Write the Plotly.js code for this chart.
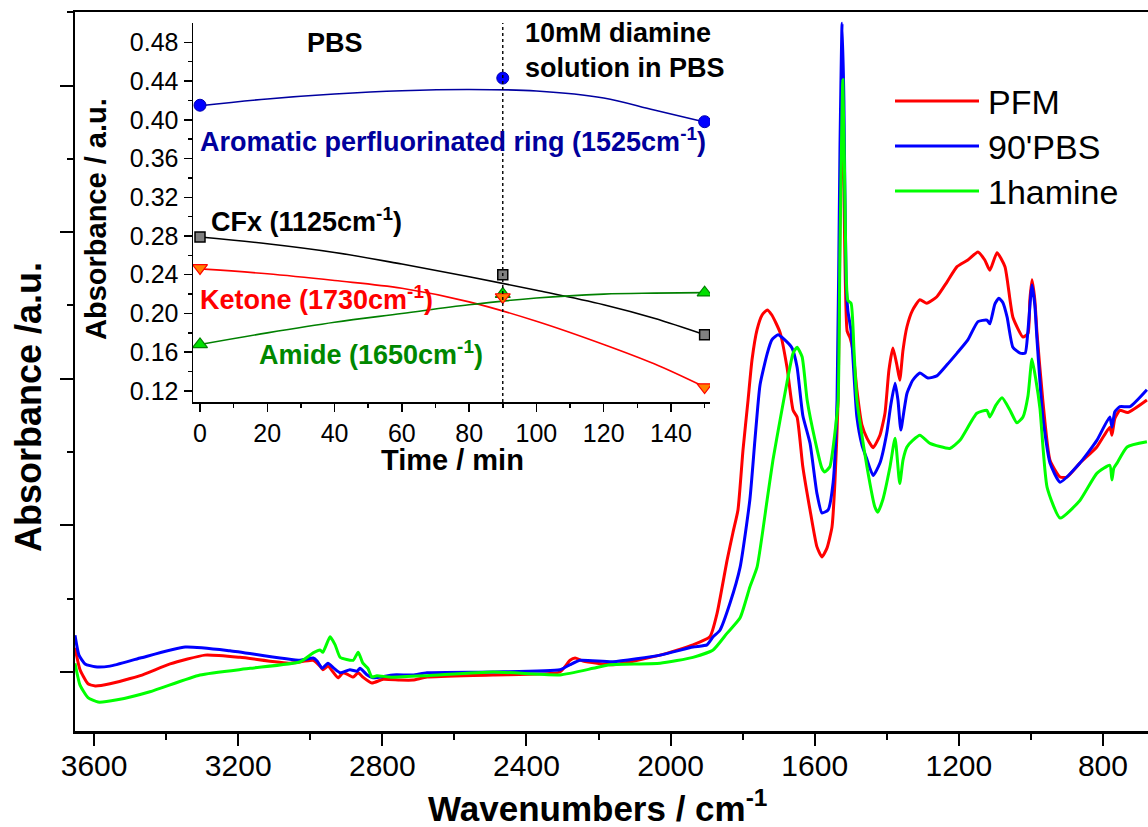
<!DOCTYPE html>
<html>
<head>
<meta charset="utf-8">
<script src="https://cdn.plot.ly/plotly-3.0.1.min.js"></script>
<style>html,body{margin:0;padding:0;background:#fff;}#chart{width:1148px;height:827px;}</style>
</head>
<body>
<div id="chart"></div>
<script>
// ---- Main FTIR spectra (wavenumber cm-1, absorbance a.u.) ----
const wnPFM = [3653,3639,3617,3597,3556,3472,3389,3292,3195,3056,2992,2973,2965,2951,2923,2909,2898,2881,2867,2854,2829,2798,2751,2715,2676,2493,2307,2279,2265,2243,2160,2029,1938,1891,1871,1843,1827,1813,1799,1785,1774,1760,1746,1732,1719,1696,1677,1660,1649,1633,1613,1594,1580,1566,1552,1544,1535,1530,1524,1519,1510,1502,1494,1483,1469,1455,1438,1419,1405,1394,1383,1372,1364,1355,1344,1328,1308,1289,1261,1233,1205,1175,1147,1128,1114,1094,1072,1050,1022,1008,1003,997,989,983,967,947,919,900,864,817,781,775,767,753,731,678];
const absPFM = [0.033,0.003,-0.016,-0.019,-0.016,-0.005,0.011,0.023,0.020,0.012,0.016,0.008,0.003,0.008,-0.008,-0.001,-0.003,-0.007,-0.001,-0.007,-0.015,-0.010,-0.011,-0.011,-0.007,-0.004,0.000,0.016,0.019,0.015,0.010,0.023,0.037,0.048,0.080,0.153,0.190,0.221,0.303,0.371,0.426,0.467,0.487,0.494,0.487,0.463,0.416,0.357,0.348,0.280,0.221,0.171,0.157,0.169,0.198,0.258,0.371,0.600,0.780,0.660,0.465,0.456,0.439,0.385,0.337,0.319,0.306,0.323,0.353,0.412,0.442,0.419,0.398,0.439,0.471,0.494,0.508,0.503,0.512,0.532,0.553,0.562,0.573,0.562,0.548,0.572,0.553,0.484,0.457,0.462,0.507,0.535,0.507,0.462,0.371,0.289,0.266,0.266,0.285,0.307,0.334,0.323,0.346,0.357,0.354,0.371];

const wnPBS = [3653,3642,3625,3597,3556,3472,3347,3223,3028,2992,2981,2967,2951,2934,2917,2890,2870,2862,2842,2826,2770,2715,2676,2493,2307,2279,2251,2160,2029,1938,1899,1882,1863,1835,1807,1780,1766,1752,1732,1719,1702,1683,1663,1649,1633,1613,1594,1580,1563,1549,1538,1530,1524,1519,1513,1508,1499,1483,1469,1455,1438,1419,1400,1389,1377,1369,1361,1352,1344,1328,1308,1286,1261,1233,1205,1175,1147,1122,1114,1100,1089,1078,1066,1050,1030,1016,1008,997,989,983,967,947,919,864,817,781,775,767,753,725,678];
const absPBS = [0.050,0.023,0.011,0.007,0.008,0.019,0.034,0.029,0.016,0.019,0.015,0.005,0.012,0.005,-0.001,0.003,0.001,0.005,-0.004,-0.008,-0.004,-0.004,-0.001,0.000,0.003,0.010,0.016,0.014,0.023,0.034,0.037,0.048,0.057,0.094,0.143,0.235,0.316,0.391,0.434,0.453,0.460,0.453,0.442,0.416,0.350,0.312,0.244,0.217,0.221,0.258,0.371,0.712,0.885,0.780,0.535,0.493,0.465,0.348,0.310,0.290,0.268,0.285,0.326,0.364,0.394,0.371,0.330,0.357,0.380,0.398,0.408,0.401,0.404,0.419,0.435,0.453,0.478,0.480,0.475,0.502,0.510,0.504,0.484,0.443,0.435,0.435,0.467,0.528,0.500,0.453,0.348,0.285,0.259,0.285,0.316,0.348,0.334,0.355,0.362,0.362,0.385];

const wnAmine = [3653,3639,3617,3589,3536,3445,3306,3167,3028,2992,2973,2965,2945,2931,2917,2881,2867,2854,2840,2829,2815,2779,2676,2493,2307,2215,2168,2029,1938,1882,1843,1807,1780,1760,1732,1716,1696,1677,1660,1649,1635,1621,1599,1580,1572,1558,1544,1535,1530,1522,1516,1508,1499,1491,1483,1455,1433,1425,1411,1391,1377,1364,1355,1344,1328,1308,1280,1225,1197,1150,1122,1114,1097,1080,1058,1039,1022,1008,997,986,975,955,919,864,817,781,775,770,761,733,678];
const absAmine = [0.012,-0.018,-0.035,-0.041,-0.038,-0.027,-0.004,0.005,0.014,0.026,0.030,0.027,0.048,0.037,0.020,0.016,0.027,0.012,0.005,-0.007,-0.005,-0.007,-0.005,0.000,-0.004,0.005,0.010,0.012,0.020,0.030,0.053,0.074,0.116,0.143,0.235,0.289,0.344,0.395,0.435,0.443,0.430,0.371,0.316,0.278,0.273,0.280,0.326,0.371,0.575,0.808,0.644,0.507,0.503,0.439,0.371,0.280,0.225,0.218,0.235,0.280,0.319,0.257,0.289,0.307,0.316,0.323,0.312,0.305,0.316,0.353,0.357,0.348,0.364,0.374,0.357,0.340,0.348,0.377,0.427,0.398,0.360,0.252,0.210,0.234,0.271,0.282,0.262,0.278,0.285,0.307,0.314];

const seriesNames = ["PFM", "90'PBS", "1hamine"];

// ---- Inset: band absorbance vs time ----
const timeMin = [0, 90, 150];
const aromatic = [0.415, 0.443, 0.398];
const cfx = [0.279, 0.240, 0.178];
const ketone = [0.247, 0.217, 0.124];
const amide = [0.168, 0.220, 0.2215];
const fitTime = [0, 20, 40, 60, 80, 100, 120, 135, 150];
const aromaticFit = [0.4145, 0.4215, 0.4266, 0.4300, 0.4313, 0.4297, 0.4225, 0.4100, 0.3977];
const cfxFit = [0.279, 0.272, 0.263, 0.251, 0.238, 0.224, 0.209, 0.195, 0.178];
const ketoneFit = [0.246, 0.241, 0.234, 0.226, 0.212, 0.192, 0.168, 0.148, 0.124];
const amideFit = [0.168, 0.180, 0.191, 0.200, 0.209, 0.216, 0.220, 0.221, 0.2215];
const switchTime = 90;

const FONT = "Liberation Sans, Arial, Helvetica, sans-serif";
const cRed = "#ff0000", cBlue = "#0000ff", cGreen = "#00ff00";
const specLine = c => ({color: c, width: 3, shape: "spline", smoothing: 0.5});

const traces = [
  {x: wnPFM, y: absPFM, name: seriesNames[0], mode: "lines", line: specLine(cRed)},
  {x: wnPBS, y: absPBS, name: seriesNames[1], mode: "lines", line: specLine(cBlue)},
  {x: wnAmine, y: absAmine, name: seriesNames[2], mode: "lines", line: specLine(cGreen)},
  // inset fits
  {x: fitTime, y: aromaticFit, xaxis: "x2", yaxis: "y2", mode: "lines", line: {color: "#0000a0", width: 1.6, shape: "spline"}},
  {x: fitTime, y: cfxFit, xaxis: "x2", yaxis: "y2", mode: "lines", line: {color: "#000000", width: 1.6, shape: "spline"}},
  {x: fitTime, y: ketoneFit, xaxis: "x2", yaxis: "y2", mode: "lines", line: {color: "#ff0000", width: 1.6, shape: "spline"}},
  {x: fitTime, y: amideFit, xaxis: "x2", yaxis: "y2", mode: "lines", line: {color: "#008000", width: 1.6, shape: "spline"}},
  // inset markers
  {x: timeMin, y: aromatic, xaxis: "x2", yaxis: "y2", mode: "markers", marker: {symbol: "circle", size: 12, color: "#0000ff", line: {color: "#0000b0", width: 1}}},
  {x: timeMin, y: cfx, xaxis: "x2", yaxis: "y2", mode: "markers", marker: {symbol: "square", size: 10, color: "#808080", line: {color: "#000000", width: 1.5}}},
  {x: timeMin, y: amide, xaxis: "x2", yaxis: "y2", mode: "markers", marker: {symbol: "triangle-up", size: 13, color: "#00e000", line: {color: "#008000", width: 1.2}}},
  {x: timeMin, y: ketone, xaxis: "x2", yaxis: "y2", mode: "markers", marker: {symbol: "triangle-down", size: 13, color: "#ff7f00", line: {color: "#ff0000", width: 1.2}}}
];

// paper coords helpers (plot area: x 75..1148, y 12..731)
const W = 1148, H = 827, L = 75, T = 12, B = 96;
const PW = W - L, PH = H - T - B;
const px = v => (v - L) / PW;
const py = v => (H - B - v) / PH;

const ann = [];
function a(o) { ann.push(Object.assign({showarrow: false, font: {family: FONT, size: 27, color: "#000"}}, o)); }

// inset texts
a({xref: "x2", yref: "y2", x: 40, y: 0.479, xanchor: "center", yanchor: "middle", text: "<b>PBS</b>"});
a({xref: "x2", yref: "y2", x: 96, y: 0.4896, xanchor: "left", yanchor: "middle", text: "<b>10mM diamine</b>"});
a({xref: "x2", yref: "y2", x: 96, y: 0.4535, xanchor: "left", yanchor: "middle", text: "<b>solution in PBS</b>"});
a({xref: "x2", yref: "y2", x: -0.5, y: 0.379, xanchor: "left", yanchor: "middle", text: "<b>Aromatic perfluorinated ring (1525cm<sup>-1</sup>)</b>", font: {family: FONT, size: 27, color: "#00009c"}});
a({xref: "x2", yref: "y2", x: 2.8, y: 0.2965, xanchor: "left", yanchor: "middle", text: "<b>CFx (1125cm<sup>-1</sup>)</b>"});
a({xref: "x2", yref: "y2", x: -0.5, y: 0.216, xanchor: "left", yanchor: "middle", text: "<b>Ketone (1730cm<sup>-1</sup>)</b>", font: {family: FONT, size: 27, color: "#ff0000"}});
a({xref: "x2", yref: "y2", x: 16.8, y: 0.159, xanchor: "left", yanchor: "middle", text: "<b>Amide (1650cm<sup>-1</sup>)</b>", font: {family: FONT, size: 27, color: "#008800"}});
// inset axis titles
a({xref: "paper", yref: "paper", x: px(452), y: py(460), xanchor: "center", yanchor: "middle", text: "<b>Time / min</b>", font: {family: FONT, size: 29, color: "#000"}});
a({xref: "paper", yref: "paper", x: px(96), y: py(219), xanchor: "center", yanchor: "middle", textangle: -90, text: "<b>Absorbance / a.u.</b>", font: {family: FONT, size: 29, color: "#000"}});
// main axis titles
a({xref: "paper", yref: "paper", x: px(598), y: py(806), xanchor: "center", yanchor: "middle", text: "<b>Wavenumbers / cm<sup>-1</sup></b>", font: {family: FONT, size: 35, color: "#000"}});
a({xref: "paper", yref: "paper", x: px(28), y: py(407), xanchor: "center", yanchor: "middle", textangle: -90, text: "<b>Absorbance /a.u.</b>", font: {family: FONT, size: 36, color: "#000"}});

// custom legend
const legY = [101, 146, 191];
const legC = [cRed, cBlue, cGreen];
const shapes = [
  {type: "line", xref: "x2", yref: "y2 domain", x0: switchTime, x1: switchTime, y0: 0, y1: 1, line: {color: "#000", width: 1.4, dash: "dot"}}
];
seriesNames.forEach((n, i) => {
  shapes.push({type: "line", xref: "paper", yref: "paper", x0: px(895), x1: px(979), y0: py(legY[i]), y1: py(legY[i]), line: {color: legC[i], width: 3}});
  a({xref: "paper", yref: "paper", x: px(986), y: py(legY[i] + 1), xanchor: "left", yanchor: "middle", text: n, font: {family: FONT, size: 34, color: "#000"}});
});

const layout = {
  width: W, height: H,
  margin: {l: L, r: 0, t: T, b: B, pad: 0},
  paper_bgcolor: "#fff", plot_bgcolor: "rgba(0,0,0,0)",
  showlegend: false,
  font: {family: FONT, color: "#000"},
  xaxis: {
    range: [3653, 675], showgrid: false, zeroline: false,
    showline: true, linecolor: "#000", linewidth: 2.5, mirror: true,
    ticks: "outside", ticklen: 12, tickwidth: 2, tickcolor: "#000",
    tick0: 0, dtick: 400, ticklabelstandoff: -6,
    minor: {dtick: 200, ticks: "outside", ticklen: 6, tickwidth: 2, tickcolor: "#000"},
    tickfont: {family: FONT, size: 30, color: "#000"}
  },
  yaxis: {
    range: [-0.0805, 0.9004], showgrid: false, zeroline: false,
    showline: true, linecolor: "#000", linewidth: 2.5, mirror: false,
    ticks: "outside", ticklen: 13, tickwidth: 2, tickcolor: "#000",
    tick0: 0, dtick: 0.2, showticklabels: false,
    minor: {dtick: 0.1, ticks: "outside", ticklen: 6, tickwidth: 2, tickcolor: "#000"}
  },
  xaxis2: {
    domain: [px(193), px(710)], anchor: "y2",
    range: [-2.08, 151.6], showgrid: false, zeroline: false,
    showline: true, linecolor: "#000", linewidth: 1.5,
    ticks: "outside", ticklen: 8, tickwidth: 1.5, tickcolor: "#000",
    tick0: 0, dtick: 20,
    minor: {dtick: 10, ticks: "outside", ticklen: 4, tickwidth: 1.5, tickcolor: "#000"},
    tickfont: {family: FONT, size: 25, color: "#000"}
  },
  yaxis2: {
    domain: [py(402), py(23)], anchor: "x2",
    range: [0.1086, 0.4999], showgrid: false, zeroline: false,
    showline: true, linecolor: "#000", linewidth: 1.5,
    ticks: "outside", ticklen: 8, tickwidth: 1.5, tickcolor: "#000",
    tick0: 0, dtick: 0.04, tickformat: ".2f",
    minor: {dtick: 0.02, ticks: "outside", ticklen: 4, tickwidth: 1.5, tickcolor: "#000"},
    tickfont: {family: FONT, size: 25, color: "#000"}
  },
  annotations: ann,
  shapes: shapes
};

Plotly.newPlot("chart", traces, layout, {displayModeBar: false, staticPlot: true});
</script>
</body>
</html>
